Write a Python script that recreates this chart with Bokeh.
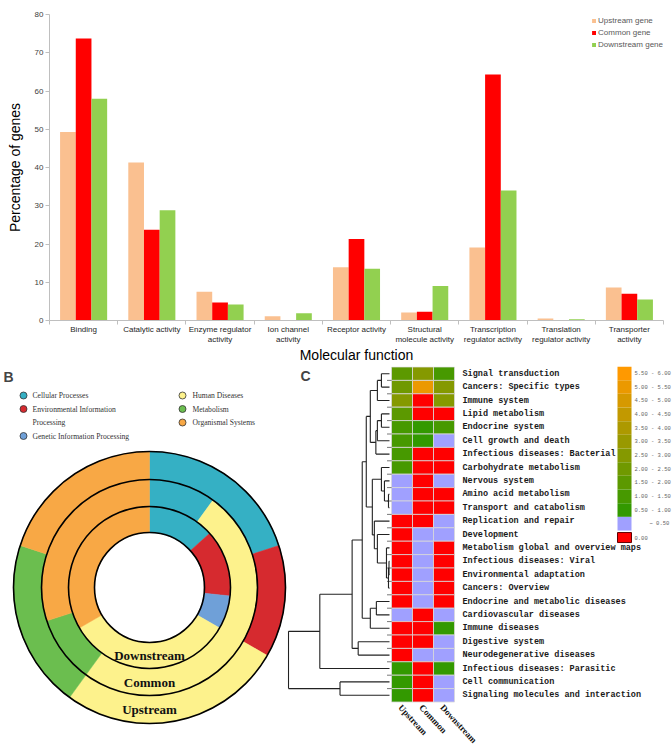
import math
from bokeh.plotting import figure
from bokeh.models import Range1d, FixedTicker, Label, Legend, LegendItem
from bokeh.layouts import column, row
from bokeh.embed import file_html
from bokeh.resources import INLINE
from bokeh.core.properties import value

# ---------------- Panel A data ----------------
functions = ["Binding", "Catalytic activity", "Enzyme regulator\nactivity", "Ion channel\nactivity",
             "Receptor activity", "Structural\nmolecule activity", "Transcription\nregulator activity",
             "Translation\nregulator activity", "Transporter\nactivity"]
series_names = ["Upstream gene", "Common gene", "Downstream gene"]
upstream_pct = [49.3, 41.3, 7.5, 1.1, 13.9, 2.1, 19.1, 0.5, 8.6]
common_pct = [73.7, 23.7, 4.7, 0.0, 21.3, 2.3, 64.3, 0.0, 7.0]
downstream_pct = [58.0, 28.8, 4.2, 1.9, 13.5, 9.0, 34.0, 0.3, 5.5]
pct_ticks = [0, 10, 20, 30, 40, 50, 60, 70, 80]

# ---------------- Panel B data ----------------
kegg_classes = ["Cellular Processes", "Environmental Information\nProcessing", "Genetic Information Processing",
                "Human Diseases", "Metabolism", "Organismal Systems"]
ring_names = ["Downstream", "Common", "Upstream"]          # inner -> outer
downstream_counts = [2, 2, 1, 5, 0, 5]
common_counts = [1, 0, 0, 5, 1, 3]
upstream_counts = [3, 2, 0, 4, 3, 3]

# ---------------- Panel C data ----------------
pathways = ["Signal transduction", "Cancers: Specific types", "Immune system", "Lipid metabolism",
            "Endocrine system", "Cell growth and death", "Infectious diseases: Bacterial",
            "Carbohydrate metabolism", "Nervous system", "Amino acid metabolism",
            "Transport and catabolism", "Replication and repair", "Development",
            "Metabolism global and overview maps", "Infectious diseases: Viral",
            "Environmental adaptation", "Cancers: Overview", "Endocrine and metabolic diseases",
            "Cardiovascular diseases", "Immune diseases", "Digestive system",
            "Neurodegenerative diseases", "Infectious diseases: Parasitic", "Cell communication",
            "Signaling molecules and interaction"]
groups = ["Upstream", "Common", "Downstream"]
upstream_score = [1.75, 2.25, 2.75, 1.75, 1.25, 1.25, 1.25, 1.25, 0.2, 0.2, 0.2, 0, 0, 0, 0, 0, 0, 0,
                  0.2, 0, 0, 0, 0.75, 0.75, 0.75]
common_score = [2.75, 5.25, 0, 0, 0.75, 0.75, 0, 0, 0, 0, 0, 0, 0.2, 0.2, 0.2, 0.2, 0.2, 0.2,
                0, 0, 0, 0.2, 0, 0, 0]
downstream_score = [1.25, 2.75, 2.75, 0, 1.25, 0.2, 0, 0, 0.2, 0, 0, 0.2, 0.2, 0, 0, 0, 0, 0,
                    0.2, 0.75, 0.2, 0.2, 0.75, 0.2, 0.2]
score_bins = [0.5, 1.0, 1.5, 2.0, 2.5, 3.0, 3.5, 4.0, 4.5, 5.0, 5.5, 6.0]
# dendrogram linkage: (child_a, child_b, height); node ids >= 25 are earlier merges
linkage = [(0, 1, 0.8), (25, 2, 1.2), (3, 4, 0.8), (27, 5, 1.2), (28, 6, 1.35), (26, 29, 1.9),
           (9, 10, 0.1), (8, 31, 0.5), (7, 32, 0.8), (14, 15, 0.05), (34, 16, 0.1), (13, 35, 0.3),
           (12, 36, 1.2), (11, 37, 1.5), (33, 38, 1.7), (30, 39, 2.3), (17, 18, 1.3), (41, 19, 1.9),
           (40, 42, 2.7), (20, 21, 3.1), (43, 44, 3.7), (45, 22, 6.9), (23, 24, 4.9), (46, 47, 10.0)]

SANS, SERIF, MONO = "Liberation Sans", "Liberation Serif", "Liberation Mono"

# ================= Panel A =================
n = len(functions)
H_A = 366
pA = figure(width=672, height=H_A, output_backend="svg", toolbar_location=None,
            x_range=Range1d(-0.5, n - 0.5), y_range=Range1d(0, 80),
            min_border_left=49, min_border_right=9, min_border_top=14, min_border_bottom=44)
pA.xgrid.visible = False
pA.ygrid.visible = False
pA.outline_line_color = None

bar_w = 0.23
offsets = [-bar_w, 0.0, bar_w]
series_vals = [upstream_pct, common_pct, downstream_pct]
series_colors = ["#FAC090", "#FF0000", "#92D050"]
items = []
for name, vals, off, col in zip(series_names, series_vals, offsets, series_colors):
    xs = [i + off for i in range(n)]
    r = pA.vbar(x=xs, top=vals, bottom=0, width=bar_w, fill_color=col, line_color=None)
    items.append(LegendItem(label=name, renderers=[r]))

legA = Legend(items=items, location="top_right", border_line_color=None, background_fill_alpha=0,
              padding=0, margin=0, spacing=0, glyph_width=5, glyph_height=5, label_standoff=2,
              label_height=12, label_text_font_size="8px", label_text_font=SANS,
              label_text_color="#595959")
pA.add_layout(legA)

yax = pA.yaxis[0]
yax.ticker = FixedTicker(ticks=pct_ticks)
yax.axis_line_color = "#BFBFBF"
yax.major_tick_line_color = "#BFBFBF"
yax.major_tick_out = 4
yax.major_tick_in = 0
yax.minor_tick_line_color = None
yax.major_label_text_font_size = "8px"
yax.major_label_text_font = SANS
yax.major_label_text_color = "#404040"
yax.major_label_standoff = 2
yax.axis_label = "Percentage of genes"
yax.axis_label_text_font = SANS
yax.axis_label_text_font_size = "14px"
yax.axis_label_text_font_style = "normal"
yax.axis_label_text_color = "black"
yax.axis_label_standoff = 9

xax = pA.xaxis[0]
xax.ticker = FixedTicker(ticks=list(range(n)), minor_ticks=[i - 0.5 for i in range(n + 1)])
xax.major_label_overrides = {i: f for i, f in enumerate(functions)}
xax.axis_line_color = "#BFBFBF"
xax.major_tick_line_color = None
xax.major_tick_out = 3
xax.major_tick_in = 0
xax.minor_tick_line_color = "#BFBFBF"
xax.minor_tick_out = 4
xax.minor_tick_in = 0
xax.major_label_standoff = 0
xax.major_label_text_font_size = "8px"
xax.major_label_text_font = SANS
xax.major_label_text_color = "#262626"
xax.axis_label = "Molecular function"
xax.axis_label_text_font = SANS
xax.axis_label_text_font_size = "14px"
xax.axis_label_text_font_style = "normal"
xax.axis_label_text_color = "black"
xax.axis_label_standoff = 0

pA.add_layout(Label(x=-0.5, y=80, x_offset=-46, y_offset=11, text="A", text_font=SANS,
                    text_font_size="14px", text_font_style="bold", text_baseline="top",
                    text_align="left"))

# ================= Panel B =================
W_B, H_B = 287, 747 - H_A
pB = figure(width=W_B, height=H_B, output_backend="svg", toolbar_location=None,
            x_range=Range1d(0, W_B), y_range=Range1d(0, H_B),
            x_axis_location=None, y_axis_location=None, min_border=0)
pB.grid.visible = False
pB.outline_line_color = None


def by(ref_y):
    return 747 - ref_y


class_colors = ["#35B0C4", "#D62A2F", "#6FA0D8", "#FDF28C", "#6BBE4F", "#F8A845"]
cx, cy = 149, by(587)
ring_edges = [55, 81, 108, 136]
ring_counts = [downstream_counts, common_counts, upstream_counts]
for k, counts in enumerate(ring_counts):
    total = float(sum(counts))
    cum = 0
    starts, ends, cols = [], [], []
    for c, col in zip(counts, class_colors):
        if c > 0:
            starts.append(math.pi / 2 - 2 * math.pi * cum / total)
            ends.append(math.pi / 2 - 2 * math.pi * (cum + c) / total)
            cols.append(col)
        cum += c
    pB.annular_wedge(x=cx, y=cy, inner_radius=ring_edges[k], outer_radius=ring_edges[k + 1],
                     start_angle=starts, end_angle=ends, direction="clock",
                     fill_color=cols, line_color=cols, line_width=0.5)

pB.circle(x=[cx] * len(ring_edges), y=[cy] * len(ring_edges), radius=ring_edges,
          fill_color=None, line_color="black", line_width=1.6)

pB.text(x=[cx] * 3, y=[cy - (ring_edges[k] + ring_edges[k + 1]) / 2 for k in range(3)],
        text=ring_names, text_align="center", text_baseline="middle", text_font=value(SERIF),
        text_font_style="bold", text_font_size="13px", text_color="#111111")

# legend of panel B
col_circle_x = [23, 182]
col_text_x = [32, 192]
slot_top, slot_h = by(395), 13.5
slot_used = [0, 0]
mx, my, mc, tx, ty, tt = [], [], [], [], [], []
for i, (name, col) in enumerate(zip(kegg_classes, class_colors)):
    c = 0 if i < 3 else 1
    s = slot_used[c]
    mx.append(col_circle_x[c]); my.append(slot_top - s * slot_h); mc.append(col)
    for line in name.split("\n"):
        tx.append(col_text_x[c]); ty.append(slot_top - slot_used[c] * slot_h); tt.append(line)
        slot_used[c] += 1
pB.scatter(x=mx, y=my, size=7, fill_color=mc, line_color="#333333", line_width=0.8)
pB.text(x=tx, y=ty, text=tt, text_align="left", text_baseline="middle", text_font=value(SERIF),
        text_font_size="7.6px", text_color="#333333")

pB.add_layout(Label(x=3, y=by(368), text="B", text_font=SANS, text_font_size="14px",
                    text_font_style="bold", text_baseline="top", text_align="left"))

# ================= Panel C =================
ref_left, ref_top = W_B, H_A
W_C, H_C = 672 - ref_left, 747 - ref_top
px_per_col, px_per_row = 21.0, 13.4
hm_left, hm_top = 391, 366.5


def ux(px):
    return (px - hm_left) / px_per_col - 0.5


def vy(py):
    return (py - hm_top) / px_per_row - 0.5


pC = figure(width=W_C, height=H_C, output_backend="svg", toolbar_location=None,
            x_range=Range1d(ux(ref_left), ux(ref_left + W_C)),
            y_range=Range1d(vy(ref_top + H_C), vy(ref_top)),
            x_axis_location=None, y_axis_location=None, min_border=0)
pC.grid.visible = False
pC.outline_line_color = None

RED, LAV = "#FF0000", "#A0A0FF"
nb = len(score_bins) - 1
bin_colors = ["#%02X%02X%02X" % (int(round(51 + (255 - 51) * k / (nb - 1))), 153, 0) for k in range(nb)]


def score_color(v):
    if v == 0:
        return RED
    if v < score_bins[0]:
        return LAV
    for k in range(nb):
        if v < score_bins[k + 1]:
            return bin_colors[k]
    return bin_colors[-1]


cols_score = [upstream_score, common_score, downstream_score]
hx, hy, hc = [], [], []
for j, sc in enumerate(cols_score):
    for i, v in enumerate(sc):
        hx.append(j); hy.append(i); hc.append(score_color(v))
pC.rect(x=hx, y=hy, width=1, height=1, fill_color=hc, line_color="#D8D8D8", line_width=0.8)

npw = len(pathways)
pC.text(x=[ux(462)] * npw, y=list(range(npw)), text=pathways, text_align="left",
        text_baseline="middle", text_font=value(MONO), text_font_style="bold",
        text_font_size="8.5px", text_color="#1A1A1A")

pC.text(x=[j - 0.1 for j in range(len(groups))], y=[npw - 0.5 + 0.3] * len(groups), text=groups,
        angle=-0.82, text_align="left", text_baseline="middle", text_font=value(SERIF),
        text_font_style="bold", text_font_size="9px", text_color="#111111")

# small ticks beside the heat map
pC.segment(x0=[ux(386.5)] * (npw - 1), y0=[i + 0.5 for i in range(npw - 1)],
           x1=[-0.5] * (npw - 1), y1=[i + 0.5 for i in range(npw - 1)], line_color="#555555", line_width=0.8)

# dendrogram
leaf_x = ux(389)
h_scale = 10.1 / px_per_col
node_y = {i: float(i) for i in range(npw)}
node_h = {i: 0.0 for i in range(npw)}
sx0, sy0, sx1, sy1 = [], [], [], []
for k, (a, b, h) in enumerate(linkage):
    nid = npw + k
    node_y[nid] = (node_y[a] + node_y[b]) / 2
    node_h[nid] = h
    xn = leaf_x - h * h_scale
    for ch in (a, b):
        sx0.append(leaf_x - node_h[ch] * h_scale); sy0.append(node_y[ch])
        sx1.append(xn); sy1.append(node_y[ch])
    sx0.append(xn); sy0.append(node_y[a]); sx1.append(xn); sy1.append(node_y[b])
pC.segment(x0=sx0, y0=sy0, x1=sx1, y1=sy1, line_color="#222222", line_width=1.1)

# colour key
key_x, key_w = ux(624), 14 / px_per_col
key_top, key_h = vy(366), 13.67 / px_per_row
key_colors = bin_colors[::-1] + [LAV]
key_labels = ["%.2f - %.2f" % (score_bins[k], score_bins[k + 1]) for k in range(nb)][::-1]
key_y = [key_top + (k + 0.5) * key_h for k in range(len(key_colors))]
pC.rect(x=[key_x] * len(key_colors), y=key_y, width=key_w, height=key_h, fill_color=key_colors,
        line_color=None)
red_y = key_top + len(key_colors) * key_h + (2 + 5) / px_per_row
pC.rect(x=[key_x], y=[red_y], width=key_w, height=10 / px_per_row, fill_color=RED,
        line_color="#600000", line_width=1)
pC.text(x=[ux(634)] * nb, y=key_y[:nb], text=key_labels, text_align="left", text_baseline="middle",
        text_font=value(MONO), text_font_size="5.5px", text_color="#666666")
pC.text(x=[ux(649), ux(634)], y=[key_y[nb], red_y], text=["~ %.2f" % score_bins[0], "%.2f" % 0],
        text_align="left", text_baseline="middle", text_font=value(MONO), text_font_size="5.5px",
        text_color="#666666")

pC.add_layout(Label(x=ux(300), y=vy(367), text="C", text_font=SANS, text_font_size="14px",
                    text_font_style="bold", text_baseline="top", text_align="left"))

layout = column(pA, row(pB, pC))
open("out.html", "w").write(file_html(layout, INLINE))
